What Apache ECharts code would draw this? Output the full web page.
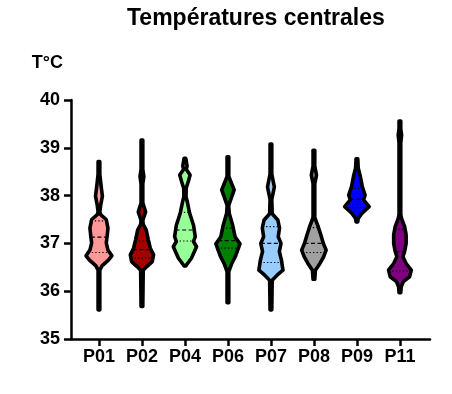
<!DOCTYPE html>
<html><head><meta charset="utf-8">
<script src="https://cdn.jsdelivr.net/npm/echarts@6/dist/echarts.min.js"></script>
<style>html,body{margin:0;padding:0;background:#fff}#c{width:452px;height:394px}</style>
</head><body><div id="c"></div>
<script>
// Categories
var categories = ['P01','P02','P04','P06','P07','P08','P09','P11'];
var colors = ['#FF9999','#A50000','#99FF99','#008000','#99CCFF','#A0A0A0','#0000FF','#800080'];
var yTicks = [35,36,37,38,39,40];

// Violin profiles: temperature values (top -> bottom) and half-width (density, category units)
var P01_t = [38.71,38.45,38.20,37.99,37.80,37.66,37.60,37.50,37.32,37.15,37.01,36.86,36.74,36.65,36.53,36.44,35.61];
var P01_d = [0.02,0.02,0.05,0.08,0.04,0.02,0.04,0.17,0.21,0.19,0.17,0.21,0.30,0.22,0.07,0.02,0.02];
var P02_t = [39.16,38.55,38.40,38.25,37.85,37.66,37.48,37.40,37.28,37.07,36.90,36.76,36.62,36.52,36.44,35.68];
var P02_d = [0.02,0.02,0.045,0.02,0.02,0.085,0.02,0.03,0.10,0.15,0.195,0.27,0.24,0.12,0.03,0.02];
var P04_t = [38.78,38.62,38.55,38.43,38.30,38.16,37.98,37.85,37.63,37.38,37.14,37.04,36.93,36.79,36.69,36.58,36.53];
var P04_d = [0.02,0.05,0.03,0.12,0.08,0.03,0.025,0.06,0.11,0.20,0.24,0.20,0.27,0.20,0.15,0.06,0.02];
var P06_t = [38.81,38.40,38.12,37.80,37.76,37.63,37.38,37.14,36.99,36.72,36.58,36.41,35.76];
var P06_d = [0.02,0.02,0.145,0.02,0.02,0.03,0.11,0.165,0.28,0.17,0.09,0.02,0.02];
var P07_t = [39.08,38.45,38.18,37.92,37.62,37.49,37.32,37.14,37.00,36.83,36.65,36.44,36.34,36.23,35.61];
var P07_d = [0.02,0.02,0.08,0.02,0.03,0.16,0.20,0.17,0.235,0.195,0.245,0.28,0.15,0.03,0.02];
var P08_t = [38.95,38.62,38.43,38.25,37.55,37.49,37.35,37.18,37.00,36.86,36.72,36.58,36.44,36.25];
var P08_d = [0.02,0.02,0.06,0.02,0.02,0.04,0.10,0.16,0.22,0.285,0.225,0.14,0.035,0.02];
var P09_t = [38.77,38.58,38.40,38.19,38.01,37.91,37.77,37.63,37.52,37.45];
var P09_d = [0.02,0.03,0.08,0.125,0.19,0.155,0.285,0.12,0.03,0.02];
var P11_t = [39.56,39.40,39.27,39.10,37.60,37.52,37.35,37.18,37.00,36.83,36.72,36.58,36.44,36.30,36.20,36.09,35.97];
var P11_d = [0.02,0.02,0.04,0.02,0.02,0.04,0.11,0.145,0.145,0.11,0.07,0.145,0.265,0.225,0.08,0.03,0.02];

// Quartiles: [Q1, median, Q3]
var Q1 = [36.81,36.69,37.05,36.90,36.60,36.81,37.75,36.42];
var MED = [37.13,36.87,37.28,37.06,37.00,37.00,37.92,36.83];
var Q3 = [37.47,37.05,37.65,37.32,37.35,37.33,38.15,37.30];

var profT = [P01_t,P02_t,P04_t,P06_t,P07_t,P08_t,P09_t,P11_t];
var profD = [P01_d,P02_d,P04_d,P06_d,P07_d,P08_d,P09_d,P11_d];

function widthAt(i, v){
  var t = profT[i], d = profD[i];
  for (var k=0;k<t.length-1;k++){
    if (v<=t[k] && v>=t[k+1]){
      var f = (t[k]-v)/(t[k]-t[k+1]);
      return d[k]+(d[k+1]-d[k])*f;
    }
  }
  return 0;
}

var chart = echarts.init(document.getElementById('c'));
var FONT = '"Liberation Sans", Arial, sans-serif';

function renderItem(params, api){
  var i = params.dataIndex;
  var t = profT[i], d = profD[i];
  var pts = [];
  for (var k=0;k<t.length;k++) pts.push(api.coord([i - d[k], t[k]]));
  for (var k=t.length-1;k>=0;k--) pts.push(api.coord([i + d[k], t[k]]));
  var children = [{
    type:'polygon', shape:{points:pts}, style:{fill:colors[i], stroke:null}
  }];
  var qs = [[Q1[i],'dot'],[MED[i],'dash'],[Q3[i],'dot']];
  qs.forEach(function(q){
    var w = widthAt(i, q[0]);
    var a = api.coord([i - w, q[0]]), b = api.coord([i + w, q[0]]);
    children.push({type:'line', shape:{x1:a[0],y1:a[1],x2:b[0],y2:b[1]},
      style:{stroke:'#000', lineWidth:1.2, lineDash: q[1]==='dash'?[4,2.5]:[1.3,2.2]}});
  });
  children.push({type:'polygon', shape:{points:pts},
    style:{fill:null, stroke:'#000', lineWidth:3.6, lineJoin:'round'}});
  return {type:'group', children:children};
}

chart.setOption({
  animation:false,
  title:{text:'Températures centrales', left:122, top:2,
    textStyle:{fontFamily:FONT, fontWeight:'bold', fontSize:23, color:'#000'}},
  grid:{left:71, right:22, top:100, bottom:55, containLabel:false, outerBoundsMode:'none'},
  xAxis:{type:'value', min:-0.65, max:7.7,
    splitLine:{show:false},
    axisLine:{show:true, onZero:false, lineStyle:{color:'#000', width:2.5}},
    axisTick:{show:true, customValues:[0,1,2,3,4,5,6,7], length:7, lineStyle:{color:'#000', width:2.5}},
    axisLabel:{customValues:[0,1,2,3,4,5,6,7], margin:9,
      formatter:function(v){return categories[Math.round(v)];},
      fontFamily:FONT, fontWeight:'bold', fontSize:18, color:'#000'}
  },
  yAxis:{type:'value', min:35, max:40, interval:1,
    name:'T°C', nameLocation:'end', nameGap:28,
    nameTextStyle:{fontFamily:FONT, fontWeight:'bold', fontSize:18, color:'#000', align:'right', padding:[0,8,0,0]},
    splitLine:{show:false},
    axisLine:{show:true, onZero:false, lineStyle:{color:'#000', width:2.5}},
    axisTick:{show:true, length:7, lineStyle:{color:'#000', width:2.5}},
    axisLabel:{margin:11, fontFamily:FONT, fontWeight:'bold', fontSize:18, color:'#000',
      formatter:function(v){return String(v);}}
  },
  series:[{type:'custom', renderItem:renderItem, clip:false,
    data:categories.map(function(c,i){return [i, MED[i]];})}]
});
</script></body></html>
